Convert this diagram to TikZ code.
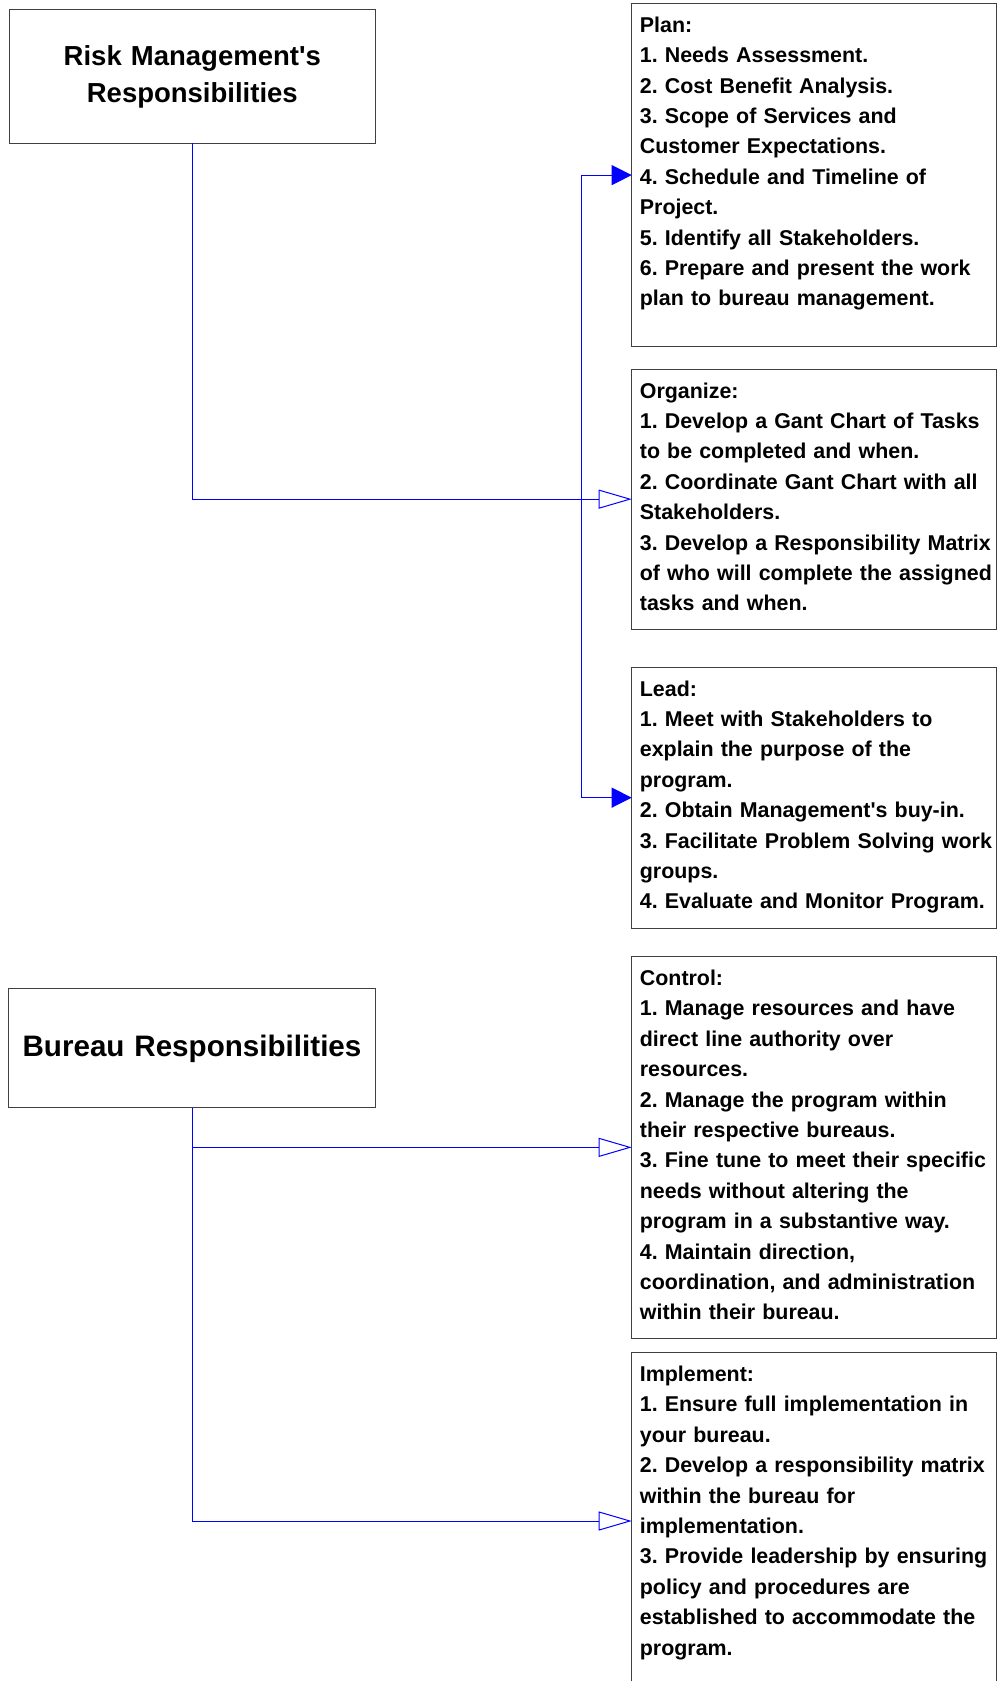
\documentclass[tikz,border=0pt]{standalone}
\usepackage{fontspec}
\setmainfont{Liberation Sans}
\usetikzlibrary{arrows.meta,calc}
\frenchspacing
\begin{document}
\frenchspacing
\begin{tikzpicture}[x=1pt,y=-1pt,
  box/.style={draw=black!75, line width=1pt, rectangle, inner sep=0pt, outer sep=0pt, anchor=north west},
  body/.style={anchor=base west, inner sep=0pt, text width=360pt, align=left, font=\fontsize{21.4}{30.4}\selectfont\bfseries\frenchspacing},
  title/.style={anchor=base, inner sep=0pt, text width=360pt, align=center},
  conn/.style={draw=blue, line width=1pt},
  solidtip/.style={-{Triangle[length=20pt,width=20pt]}},
  opentip/.style={-{Triangle[open,length=33pt,width=19pt,fill=white]}},
]
\useasboundingbox (0,0) rectangle (998,1681);

% boxes
\node[box, minimum width=366.7pt, minimum height=134pt] (rm) at (9,9.3) {};
\node[box, minimum width=367.4pt, minimum height=119.4pt] (bur) at (8.3,988.3) {};
\node[box, minimum width=364.8pt, minimum height=343.2pt] (plan) at (631.7,3.5) {};
\node[box, minimum width=364.8pt, minimum height=259.7pt] (org) at (631.7,369.3) {};
\node[box, minimum width=364.8pt, minimum height=260.7pt] (lead) at (631.7,667.3) {};
\node[box, minimum width=364.8pt, minimum height=381.3pt] (ctrl) at (631.7,956.7) {};
\node[box, minimum width=364.8pt, minimum height=336.6pt] (impl) at (631.7,1352.7) {};

% titles
\node[title, font=\fontsize{27.5}{37}\selectfont\bfseries] (rmt) at (192.3,65) {Risk Management\textquotesingle s\\Responsibilities};
\node[title, font=\fontsize{29.6}{36}\selectfont\bfseries] (burt) at (192,1056) {Bureau Responsibilities};

% body texts
\node[body] (plant) at ($(plan.north west)+(8,28.7)$) {Plan:\\
1. Needs Assessment.\\
2. Cost Benefit Analysis.\\
3. Scope of Services and\\
Customer Expectations.\\
4. Schedule and Timeline of\\
Project.\\
5. Identify all Stakeholders.\\
6. Prepare and present the work\\
plan to bureau management.};

\node[body] (orgt) at ($(org.north west)+(8,28.7)$) {Organize:\\
1. Develop a Gant Chart of Tasks\\
to be completed and when.\\
2. Coordinate Gant Chart with all\\
Stakeholders.\\
3. Develop a Responsibility Matrix\\
of who will complete the assigned\\
tasks and when.};

\node[body] (leadt) at ($(lead.north west)+(8,28.7)$) {Lead:\\
1. Meet with Stakeholders to\\
explain the purpose of the\\
program.\\
2. Obtain Management\textquotesingle s buy-in.\\
3. Facilitate Problem Solving work\\
groups.\\
4. Evaluate and Monitor Program.};

\node[body] (ctrlt) at ($(ctrl.north west)+(8,28.7)$) {Control:\\
1. Manage resources and have\\
direct line authority over\\
resources.\\
2. Manage the program within\\
their respective bureaus.\\
3. Fine tune to meet their specific\\
needs without altering the\\
program in a substantive way.\\
4. Maintain direction,\\
coordination, and administration\\
within their bureau.};

\node[body] (implt) at ($(impl.north west)+(8,28.7)$) {Implement:\\
1. Ensure full implementation in\\
your bureau.\\
2. Develop a responsibility matrix\\
within the bureau for\\
implementation.\\
3. Provide leadership by ensuring\\
policy and procedures are\\
established to accommodate the\\
program.};

% connectors
\draw[conn, opentip] (rm.south) |- (org.west);
\coordinate (j) at ($(org.west)+(-50,0)$);
\draw[conn, solidtip] (j) |- (plan.west);
\draw[conn, solidtip] (j) |- (lead.west);
\draw[conn, opentip] (bur.south) |- (ctrl.west);
\draw[conn, opentip] (bur.south) |- (impl.west);
\end{tikzpicture}
\end{document}
